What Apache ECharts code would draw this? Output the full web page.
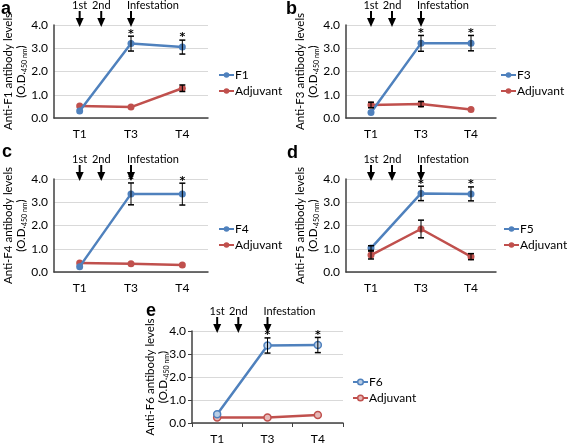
<!DOCTYPE html>
<html><head><meta charset="utf-8">
<script src="https://cdn.jsdelivr.net/npm/echarts@6/dist/echarts.min.js"></script>
<style>html,body{margin:0;padding:0;background:#fff}#c{width:567px;height:444px}</style>
</head><body><div id="c"></div>
<script>
// ---- data ----
const categories = ['T1', 'T3', 'T4'];
const panelLetters = ['a', 'b', 'c', 'd', 'e'];
const antigenNames = ['F1', 'F3', 'F4', 'F5', 'F6'];
const eventLabels = ['1st', '2nd', 'Infestation'];

const F1 = [0.30, 3.20, 3.05];
const F1Err = [0, 0.32, 0.30];
const adjA = [0.52, 0.47, 1.28];
const adjAErr = [0, 0, 0.14];

const F3 = [0.24, 3.21, 3.22];
const F3Err = [0, 0.34, 0.33];
const adjB = [0.56, 0.60, 0.37];
const adjBErr = [0.12, 0.11, 0];

const F4 = [0.23, 3.36, 3.35];
const F4Err = [0, 0.47, 0.47];
const adjC = [0.39, 0.36, 0.30];
const adjCErr = [0, 0, 0];

const F5 = [1.03, 3.38, 3.36];
const F5Err = [0.10, 0.31, 0.30];
const adjD = [0.73, 1.85, 0.66];
const adjDErr = [0.17, 0.38, 0.13];

const F6 = [0.38, 3.37, 3.39];
const F6Err = [0, 0.33, 0.33];
const adjE = [0.24, 0.24, 0.35];
const adjEErr = [0, 0, 0];

const significant = [false, true, true]; // asterisks on antigen series

const antigenValues = [F1, F3, F4, F5, F6];
const antigenErrors = [F1Err, F3Err, F4Err, F5Err, F6Err];
const adjuvantValues = [adjA, adjB, adjC, adjD, adjE];
const adjuvantErrors = [adjAErr, adjBErr, adjCErr, adjDErr, adjEErr];

// ---- layout / style ----
const FONT = 'Lato';
const BLUE = '#4F81BD', RED = '#C0504D';
const grids = [
  {left: 54, top: 25, width: 154, height: 93, outerBoundsMode: 'none'},
  {left: 346, top: 25, width: 150, height: 93, outerBoundsMode: 'none'},
  {left: 54, top: 179, width: 154, height: 93, outerBoundsMode: 'none'},
  {left: 346, top: 179, width: 150, height: 93, outerBoundsMode: 'none'},
  {left: 192, top: 331, width: 151, height: 92, outerBoundsMode: 'none'}
];
const legendPos = [
  {left: 218, top: 69},
  {left: 500, top: 69},
  {left: 218, top: 223},
  {left: 503, top: 223},
  {left: 352, top: 376}
];
const letterPos = [[1, 0], [286, 0], [2, 143], [287, 144], [146, 302]];

const chart = echarts.init(document.getElementById('c'), null, {renderer: 'canvas'});

function renderErr(params, api) {
  const x = api.value(0), lo = api.value(1), hi = api.value(2), star = api.value(3);
  const children = [];
  const top = api.coord([x, hi]);
  const bot = api.coord([x, lo]);
  const w = 3;
  if (hi - lo > 0) {
    children.push(
      {type: 'line', shape: {x1: top[0], y1: top[1], x2: bot[0], y2: bot[1]}, style: {stroke: '#000', lineWidth: 1}},
      {type: 'line', shape: {x1: top[0] - w, y1: top[1], x2: top[0] + w, y2: top[1]}, style: {stroke: '#000', lineWidth: 1.5}},
      {type: 'line', shape: {x1: bot[0] - w, y1: bot[1], x2: bot[0] + w, y2: bot[1]}, style: {stroke: '#000', lineWidth: 1.5}}
    );
  }
  if (star) {
    children.push({type: 'text', x: top[0], y: top[1] - 8,
      style: {text: '*', fontSize: 11, fontWeight: 'bold', fontFamily: 'DejaVu Sans', textAlign: 'center', textVerticalAlign: 'top', fill: '#000'}});
  }
  return {type: 'group', children};
}

const xAxis = [], yAxis = [], series = [], legend = [];
for (let i = 0; i < 5; i++) {
  const isE = i === 4;
  xAxis.push({
    type: 'category', gridIndex: i, data: categories, boundaryGap: true,
    axisLine: {lineStyle: {color: '#404040', width: 1.5}},
    axisTick: {show: isE, alignWithLabel: false, length: 4, lineStyle: {color: '#404040'}},
    axisLabel: {color: '#000', fontSize: 12, fontFamily: FONT, margin: 10}
  });
  yAxis.push({
    type: 'value', gridIndex: i, min: 0, max: 4, interval: 1,
    axisLine: {show: true, lineStyle: {color: '#404040', width: 1.5}},
    axisTick: {show: isE, length: 4, lineStyle: {color: '#404040'}},
    splitLine: {lineStyle: {color: '#d9d9d9', width: 1}},
    axisLabel: {color: '#000', fontSize: 12, fontFamily: FONT, margin: 6, formatter: v => v.toFixed(1)},
    name: 'Anti-' + antigenNames[i] + ' antibody levels\n(O.D.{sub|450 nm})',
    nameLocation: 'middle', nameRotate: 90, nameGap: isE ? 22 : 26, nameMoveOverlap: false,
    nameTextStyle: {color: '#000', fontSize: 11.5, fontFamily: FONT, lineHeight: 13,
      rich: {sub: {fontSize: 7, fontFamily: FONT, color: '#000', verticalAlign: 'bottom', lineHeight: 13, padding: [4, 0, 0, 0]}}}
  });
  const blueItem = isE ? {color: '#b9cde5', borderColor: BLUE, borderWidth: 1.5} : {color: BLUE};
  const redItem = isE ? {color: '#e6b9b8', borderColor: RED, borderWidth: 1.5} : {color: RED};
  series.push({
    type: 'line', name: antigenNames[i], xAxisIndex: i, yAxisIndex: i, data: antigenValues[i],
    symbol: 'circle', symbolSize: 7, lineStyle: {color: BLUE, width: 2.5}, itemStyle: blueItem,
    z: 3, animation: false
  });
  series.push({
    type: 'line', name: 'Adjuvant', xAxisIndex: i, yAxisIndex: i, data: adjuvantValues[i],
    symbol: 'circle', symbolSize: 7, lineStyle: {color: RED, width: 2.5}, itemStyle: redItem,
    z: 2, animation: false
  });
  series.push({
    type: 'custom', xAxisIndex: i, yAxisIndex: i, renderItem: renderErr, z: 5, animation: false, silent: true,
    encode: {x: 0, y: [1, 2]},
    data: antigenValues[i].map((v, k) => [k, v - antigenErrors[i][k], v + antigenErrors[i][k], significant[k] ? 1 : 0])
  });
  series.push({
    type: 'custom', xAxisIndex: i, yAxisIndex: i, renderItem: renderErr, z: 5, animation: false, silent: true,
    encode: {x: 0, y: [1, 2]},
    data: adjuvantValues[i].map((v, k) => [k, v - adjuvantErrors[i][k], v + adjuvantErrors[i][k], 0])
  });
  legend.push({
    orient: 'vertical', left: legendPos[i].left, top: legendPos[i].top, padding: 0,
    itemWidth: 15, itemHeight: 7, itemGap: 4,
    textStyle: {color: '#000', fontSize: 12, fontFamily: FONT, padding: [0, 0, 0, -4]},
    selectedMode: false,
    data: [{name: antigenNames[i], itemStyle: blueItem}, {name: 'Adjuvant', itemStyle: redItem}]
  });
}

chart.setOption({
  animation: false,
  backgroundColor: '#fff',
  grid: grids,
  xAxis, yAxis, series, legend
});

// annotations: arrows, event labels, panel letters
const graphic = [];
for (let i = 0; i < 5; i++) {
  const xT1 = chart.convertToPixel({xAxisIndex: i}, categories[0]);
  const xT3 = chart.convertToPixel({xAxisIndex: i}, categories[1]);
  const yTop = chart.convertToPixel({yAxisIndex: i}, 4);
  const xs = [xT1, xT1 + 0.42 * (xT3 - xT1), xT3];
  xs.forEach((x, k) => {
    graphic.push({type: 'line', shape: {x1: x, y1: yTop - 14, x2: x, y2: yTop - 4}, style: {stroke: '#000', lineWidth: 2}});
    graphic.push({type: 'polygon', shape: {points: [[x - 4, yTop - 7], [x + 4, yTop - 7], [x, yTop + 2]]}, style: {fill: '#000'}});
    graphic.push({type: 'text', x: k === 2 ? x - 4 : x, y: yTop - 20,
      style: {text: eventLabels[k], fontSize: 11, fontFamily: FONT, fill: '#000',
        textAlign: k === 2 ? 'left' : 'center', textVerticalAlign: 'middle'}});
  });
  graphic.push({type: 'text', x: letterPos[i][0], y: letterPos[i][1],
    style: {text: panelLetters[i], fontSize: 18, fontWeight: 'bold', fontFamily: 'Liberation Sans', fill: '#000',
      textAlign: 'left', textVerticalAlign: 'top'}});
}
chart.setOption({graphic});
</script>
</body></html>
